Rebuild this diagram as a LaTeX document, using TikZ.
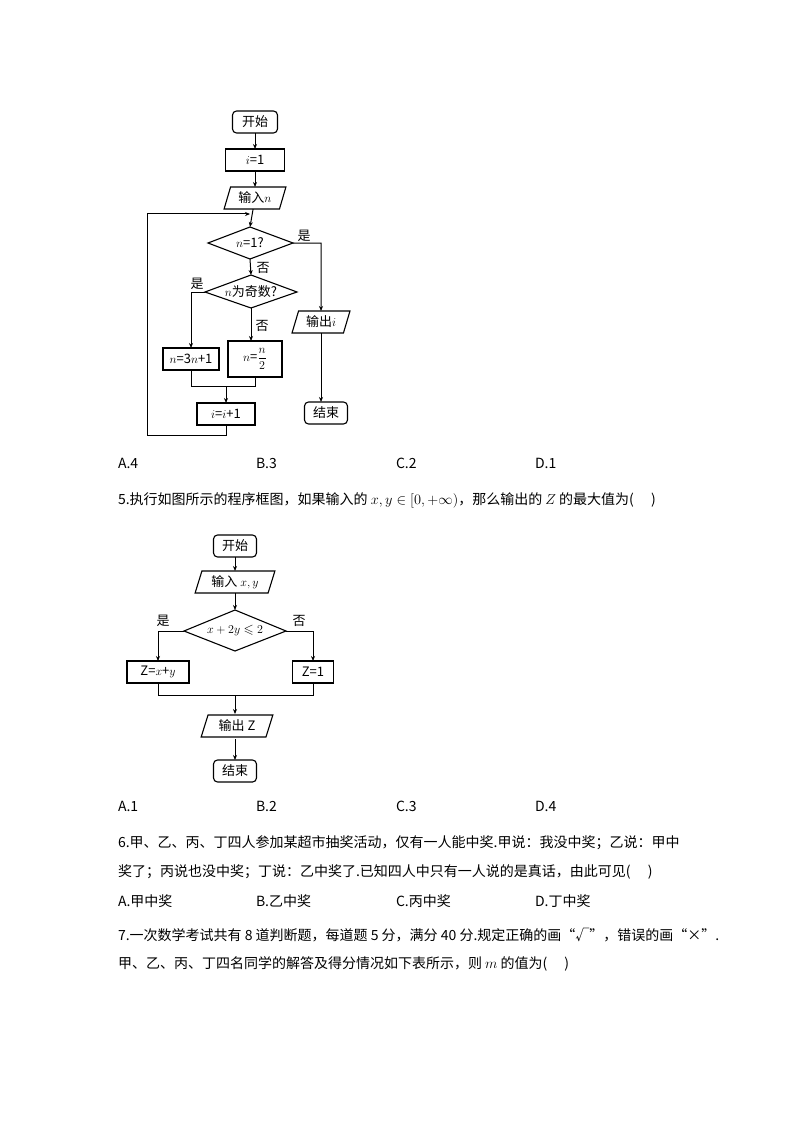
\documentclass[tikz,border=0pt]{standalone}
\usepackage{amsmath,amssymb}
\usepackage{fontspec}
\newfontfamily\cjk{Noto Sans CJK SC}
\usetikzlibrary{shapes.geometric,arrows.meta}
\begin{document}
\begin{tikzpicture}[x=1pt,y=-1pt,
  every node/.style={inner sep=0pt,outer sep=0pt},
  box/.style={draw,line width=1.1pt,minimum width=#1,minimum height=22},
  rbox/.style={draw,line width=1.1pt,rounded corners=4,minimum width=#1,minimum height=22},
  para/.style={draw,line width=1.1pt,trapezium,trapezium left angle=70,trapezium right angle=110,minimum width=#1,minimum height=22,trapezium stretches=true},
  ln/.style={line width=1pt},
  ar/.style={line width=1pt,-{Stealth[length=5pt,width=4pt]}},
  t/.style={font=\cjk\fontsize{13}{15}\selectfont},
  q/.style={anchor=west,font=\cjk\fontsize{14}{16}\selectfont}]
\useasboundingbox (0,0) rectangle (794,1123);
% ---------- flowchart 1
\node[rbox=45,t] (s1) at (255,122) {开始};
\node[box=59,t] (i1) at (255,160) {$i$=1};
\node[para=62,t] (in1) at (255,198) {输入$n$};
\node[t,minimum width=85,minimum height=32] (d1) at (250,243) {$n$=1?};
\draw[line width=1.1pt] (208,243)--(250,227)--(293,243)--(250,259)--cycle;
\node[t,minimum width=92,minimum height=33] (d2) at (251,292) {$n$为奇数?};
\draw[line width=1.1pt] (205,292)--(251,275)--(297,292)--(251,308)--cycle;
\node[box=56,t] (b3) at (191,359) {$n$=3$n$+1};
\node[box=54,minimum height=36,t] (b4) at (255,359) {$n$=$\dfrac{n}{2}$};
\node[box=58,t] (ii) at (226,414) {$i$=$i$+1};
\node[para=58,t] (out1) at (321,322) {输出$i$};
\node[rbox=43,t] (e1) at (326,413) {结束};
\draw[ar] (s1)--(i1);
\draw[ar] (i1)--(in1);
\draw[ar] (in1)--(250,227);
\draw[ar] (226,425)--(226,435)--(147,435)--(147,214)--(250,214);
\draw[ar] (250,259)--(251,275);
\draw[ar] (293,243)--(321,243)--(out1.north);
\draw[ar] (321,333)--(321,402);
\draw[ar] (205,292)--(191,292)--(b3.north);
\draw[ar] (251,308)--(251,341);
\draw[ln] (191,370)--(191,386)--(255,386)--(255,377);
\draw[ar] (226,386)--(ii.north);
\node[t] (y1) at (304,236) {是};
\node[t] (n1) at (263,268) {否};
\node[t] (y2) at (197,284) {是};
\node[t] (n2) at (262,326) {否};
% options
\node[q] (a1) at (118,463) {A.4}; \node[q] (a2) at (256,463) {B.3};
\node[q] (a3) at (396,463) {C.2}; \node[q] (a4) at (535,463) {D.1};
\node[q] (q5) at (118,500) {5.执行如图所示的程序框图，如果输入的 $x,y\in[0,+\infty)$，那么输出的 $Z$ 的最大值为(\quad\ )};
% ---------- flowchart 2
\node[rbox=43,t] (s2) at (235,546) {开始};
\node[para=80,t] (in2) at (235,582) {输入 $x,y$};
\node[t,minimum width=102,minimum height=41] (d3) at (235,631) {$x+2y\leqslant 2$};
\draw[line width=1.1pt] (184,631)--(235,610)--(286,631)--(235,651)--cycle;
\node[box=62,t] (z1) at (158,672) {Z=$x$+$y$};
\node[box=41,t] (z2) at (313,672) {Z=1};
\node[para=72,t] (out2) at (237,726) {输出 Z};
\node[rbox=43,t] (e2) at (235,771) {结束};
\draw[ar] (s2)--(in2);
\draw[ar] (in2)--(235,610);
\draw[ar] (184,631)--(158,631)--(z1.north);
\draw[ar] (286,631)--(313,631)--(z2.north);
\draw[ln] (z1.south)--(158,695)--(313,695)--(z2.south);
\draw[ar] (235,695)--(235,714);
\draw[ar] (235,739)--(e2.north);
\node[t] (y3) at (163,621) {是};
\node[t] (n3) at (299,621) {否};
\node[q] (b1) at (118,806) {A.1}; \node[q] (b2) at (256,806) {B.2};
\node[q] (b3q) at (396,806) {C.3}; \node[q] (b4q) at (535,806) {D.4};
% text
\node[q] (l1) at (118,843) {6.甲、乙、丙、丁四人参加某超市抽奖活动，仅有一人能中奖.甲说：我没中奖；乙说：甲中};
\node[q] (l2) at (118,872) {奖了；丙说也没中奖；丁说：乙中奖了.已知四人中只有一人说的是真话，由此可见(\quad\ )};
\node[q] (c1) at (118,901) {A.甲中奖}; \node[q] (c2) at (256,901) {B.乙中奖};
\node[q] (c3) at (396,901) {C.丙中奖}; \node[q] (c4) at (535,901) {D.丁中奖};
\node[q] (l3) at (118,935) {7.一次数学考试共有 8 道判断题，每道题 5 分，满分 40 分.规定正确的画“√”，错误的画“×”.};
\node[q] (l4) at (118,964) {甲、乙、丙、丁四名同学的解答及得分情况如下表所示，则 $m$ 的值为(\quad\ )};
\end{tikzpicture}
\end{document}
